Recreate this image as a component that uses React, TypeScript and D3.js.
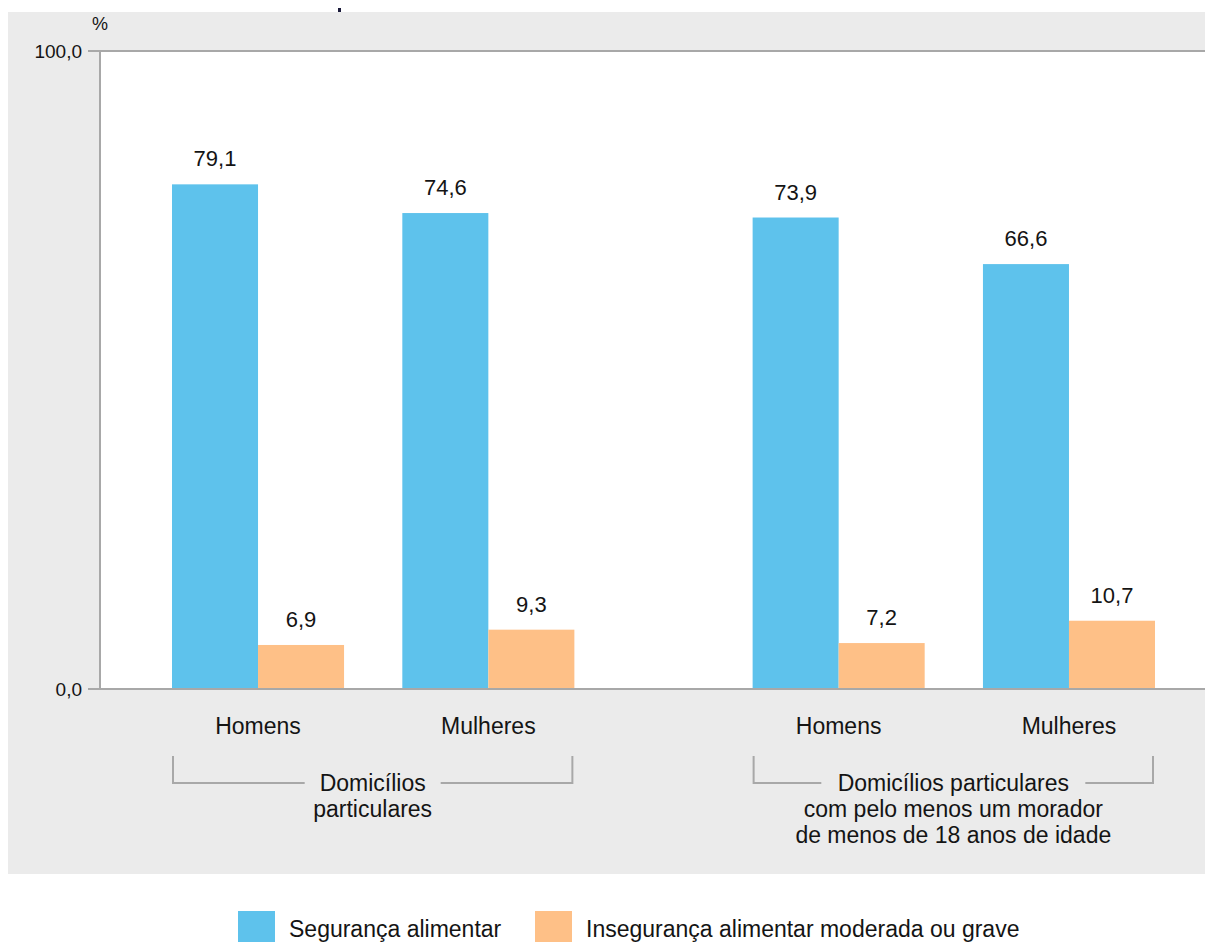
import React from "react";
import * as d3 from "d3";

const groups = ["Domicílios particulares", "Domicílios particulares com pelo menos um morador de menos de 18 anos de idade"];
const groupLabelLines = [
  ["Domicílios", "particulares"],
  ["Domicílios particulares", "com pelo menos um morador", "de menos de 18 anos de idade"],
];
const sexes = ["Homens", "Mulheres"];
const seriesNames = ["Segurança alimentar", "Insegurança alimentar moderada ou grave"];
const seriesColors = ["#5ec2ec", "#fec087"];
// order: group1 Homens, group1 Mulheres, group2 Homens, group2 Mulheres
const seguranca = [79.1, 74.6, 73.9, 66.6];
const inseguranca = [6.9, 9.3, 7.2, 10.7];
const yTicks = [0, 100];

const W = 1205;
const H = 942;
const FONT = "'Liberation Sans', Arial, Helvetica, sans-serif";
const fmt = (v: number) => v.toFixed(1).replace(".", ",");

export default function App() {
  const plotLeft = 100;
  const plotTop = 51;
  const plotBottom = 689;
  const y = d3.scaleLinear().domain([0, 100]).range([plotBottom, plotTop]);
  const xg = d3.scaleBand<string>().domain(groups).range([172, 1155]).paddingInner(0.307).paddingOuter(0);
  const xs = d3.scaleBand<string>().domain(sexes).range([0, xg.bandwidth()]).paddingInner(0.253).paddingOuter(0);
  const xv = d3.scaleBand<string>().domain(seriesNames).range([0, xs.bandwidth()]).padding(0);

  const bars: { x: number; v: number; color: string; key: string }[] = [];
  groups.forEach((g, gi) => {
    sexes.forEach((s, si) => {
      const idx = gi * 2 + si;
      const vals = [seguranca[idx], inseguranca[idx]];
      seriesNames.forEach((sn, k) => {
        bars.push({
          key: `${gi}-${si}-${k}`,
          x: (xg(g) as number) + (xs(s) as number) + (xv(sn) as number),
          v: vals[k],
          color: seriesColors[k],
        });
      });
    });
  });

  const bracketTop = 756;
  const bracketY = 783;

  return (
    <div style={{ position: "absolute", left: 0, top: 0 }}>
      <svg width={W} height={H} style={{ display: "block" }}>
        <rect x={0} y={0} width={W} height={H} fill="#ffffff" />
        <rect x={8} y={12} width={W - 8} height={874 - 12} fill="#ebebeb" />
        <rect x={plotLeft} y={plotTop} width={W - plotLeft} height={plotBottom - plotTop} fill="#ffffff" />
        <rect x={338} y={8} width={3} height={4} fill="#1a1a3a" />
        <line x1={plotLeft - 12} x2={W} y1={plotTop} y2={plotTop} stroke="#a8a8a8" strokeWidth={2} />
        <line x1={plotLeft} x2={plotLeft} y1={plotTop} y2={plotBottom} stroke="#a8a8a8" strokeWidth={2} />
        {bars.map((b) => (
          <g key={b.key}>
            <rect x={b.x} y={y(b.v)} width={xv.bandwidth()} height={plotBottom - y(b.v)} fill={b.color} />
            <text
              x={b.x + xv.bandwidth() / 2}
              y={y(b.v) - 18}
              textAnchor="middle"
              fontFamily={FONT}
              fontSize={22}
              fill="#141414"
            >
              {fmt(b.v)}
            </text>
          </g>
        ))}
        <line x1={plotLeft - 12} x2={W} y1={plotBottom} y2={plotBottom} stroke="#a8a8a8" strokeWidth={2} />
        {yTicks.map((t) => (
          <g key={t}>
            <line x1={plotLeft - 12} x2={plotLeft} y1={y(t)} y2={y(t)} stroke="#a8a8a8" strokeWidth={2} />
            <text x={82} y={y(t) + 7} textAnchor="end" fontFamily={FONT} fontSize={19} fill="#141414">
              {fmt(t)}
            </text>
          </g>
        ))}
        <text x={100} y={30} textAnchor="middle" fontFamily={FONT} fontSize={18} fill="#141414">
          %
        </text>
        {groups.map((g, gi) => {
          const gx = xg(g) as number;
          const left = gx + 1;
          const right = gx + xg.bandwidth() - 2;
          const cx = (left + right) / 2;
          const lines = groupLabelLines[gi];
          const firstW = gi === 0 ? 112 : 240;
          return (
            <g key={g}>
              {sexes.map((s) => (
                <text
                  key={s}
                  x={gx + (xs(s) as number) + xs.bandwidth() / 2}
                  y={734}
                  textAnchor="middle"
                  fontFamily={FONT}
                  fontSize={23}
                  fill="#141414"
                >
                  {s}
                </text>
              ))}
              <path
                d={`M${left},${bracketTop}V${bracketY}H${cx - firstW / 2 - 12}M${cx + firstW / 2 + 12},${bracketY}H${right}V${bracketTop}`}
                fill="none"
                stroke="#a8a8a8"
                strokeWidth={2}
              />
              {lines.map((ln, li) => (
                <text
                  key={li}
                  x={cx}
                  y={bracketY + 8 + li * 26}
                  textAnchor="middle"
                  fontFamily={FONT}
                  fontSize={23}
                  fill="#141414"
                >
                  {ln}
                </text>
              ))}
            </g>
          );
        })}
        {seriesNames.map((sn, k) => {
          const lx = k === 0 ? 238 : 535;
          return (
            <g key={sn}>
              <rect x={lx} y={911} width={37} height={37} fill={seriesColors[k]} />
              <text x={lx + 51} y={937} fontFamily={FONT} fontSize={23} fill="#141414">
                {sn}
              </text>
            </g>
          );
        })}
      </svg>
    </div>
  );
}
